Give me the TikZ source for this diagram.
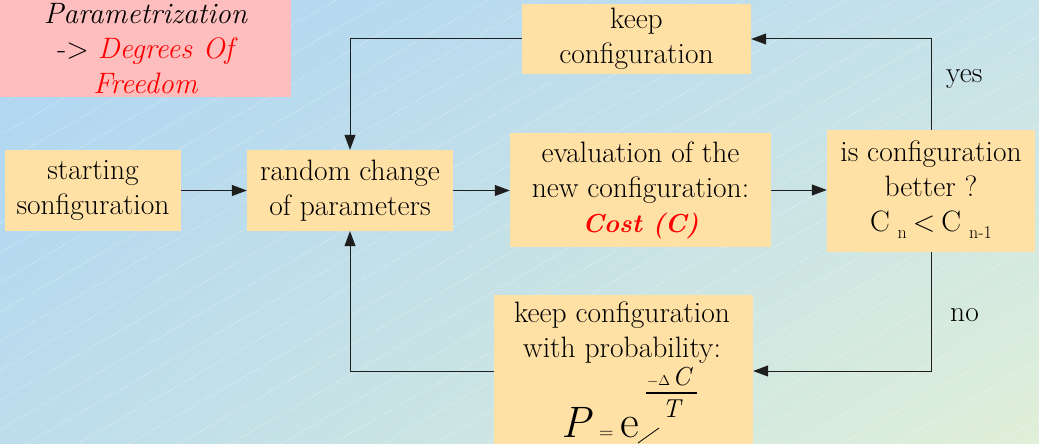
\documentclass[tikz,border=0pt]{standalone}
\usepackage{fontspec}
\usetikzlibrary{arrows.meta,shadings}
\definecolor{boxfill}{RGB}{255,225,166}
\definecolor{pinkfill}{RGB}{255,190,190}
\definecolor{bgUL}{RGB}{174,213,243}
\definecolor{bgUR}{RGB}{198,226,234}
\definecolor{bgLL}{RGB}{188,221,236}
\definecolor{bgLR}{RGB}{224,239,216}
\definecolor{linecol}{RGB}{30,30,30}
\begin{document}
\begin{tikzpicture}[x=1pt,y=-1pt,
  box/.style={fill=boxfill, draw=none, rectangle, inner sep=0pt, align=center,
    font=\fontsize{29.5}{35}\selectfont},
  plain/.style={inner sep=0pt, font=\fontsize{29.5}{35}\selectfont},
  conn/.style={line width=1pt, draw=linecol, -{Triangle[length=15pt,width=11pt]}},
  deco/.style={white, opacity=0.45, line width=0.6pt, dash pattern=on 2pt off 1.5pt}]
\useasboundingbox (0,0) rectangle (1039,444);
\shade[upper left=bgUL, upper right=bgUR, lower left=bgLL, lower right=bgLR]
  (0,0) rectangle (1039,444);
\begin{scope}
  \clip (0,0) rectangle (1039,444);
  \foreach \a in {-790,-739,...,1039} \draw[deco] (\a,444) -- ++(769,-444);
\end{scope}

% pink box
\node[box, fill=pinkfill, minimum width=291pt, minimum height=97pt] (param) at (145.5,48.5)
  {\itshape Parametrization\\ \upshape-> \itshape\textcolor{red}{Degrees Of}\\ \itshape\textcolor{red}{Freedom}};

% boxes
\node[box, minimum width=229pt, minimum height=70pt] (keep) at (636.5,39) {keep\\configuration};
\node[box, minimum width=176pt, minimum height=81pt] (start) at (93,190.5) {starting\\sonfiguration};
\node[box, minimum width=206pt, minimum height=81pt] (random) at (350,190.5) {random change\\of parameters};
\node[box, minimum width=261pt, minimum height=114pt] (eval) at (640.5,190)
  {evaluation of the\\new configuration:\\\textcolor{red}{\fontsize{26}{35}\selectfont\bfseries\itshape Cost (C)}};
\node[box, minimum width=208pt, minimum height=122pt] (better) at (931,191)
  {is configuration\\better ?\\C\hspace{8pt}\raisebox{-7pt}{\fontsize{18}{18}\selectfont n}\hspace{6pt}<\hspace{6pt}C\hspace{8pt}\raisebox{-7pt}{\fontsize{18}{18}\selectfont n-1}\\[-25pt]\mbox{}};
\node[box, minimum width=259pt, minimum height=152pt] (prob) at (623.5,371) {};
\node[plain, align=center] (probtext) at (622,333) {keep configuration\\with probability:};

% formula
\node[inner sep=0pt, anchor=base west, font=\fontsize{44}{44}\selectfont\itshape] (fP) at (561,437) {P};
\node[inner sep=0pt, anchor=base west, font=\fontsize{20}{20}\selectfont] (feq) at (599,438) {=};
\node[inner sep=0pt, anchor=base west, font=\fontsize{46}{46}\selectfont] (fe) at (620,437) {e};
\node[inner sep=0pt, anchor=base west] (fnum) at (647,385)
  {\fontsize{14}{14}\selectfont$-\Delta$\,\fontsize{26}{26}\selectfont\itshape C};
\node[inner sep=0pt, anchor=base west, font=\fontsize{26}{26}\selectfont\itshape] (fden) at (662,417) {T};
\draw[line width=2pt] (646,393) -- (697,393);
\draw[line width=0.8pt] (638,443) -- (659,428);

% connectors
\draw[conn] (start.east) -- (start.east -| random.west);
\draw[conn] (random.east) -- (random.east -| eval.west);
\draw[conn] (eval.east) -- (eval.east -| better.west);
\draw[conn] (better.north) |- (keep.east);
\draw[conn] (keep.west) -| (random.north);
\draw[conn] (better.south) |- (prob.east);
\draw[conn] (prob.west) -| (random.south);

\node[plain, anchor=base west] (yes) at (946,83) {yes};
\node[plain, anchor=base west] (no) at (950,321) {no};
\end{tikzpicture}
\end{document}
